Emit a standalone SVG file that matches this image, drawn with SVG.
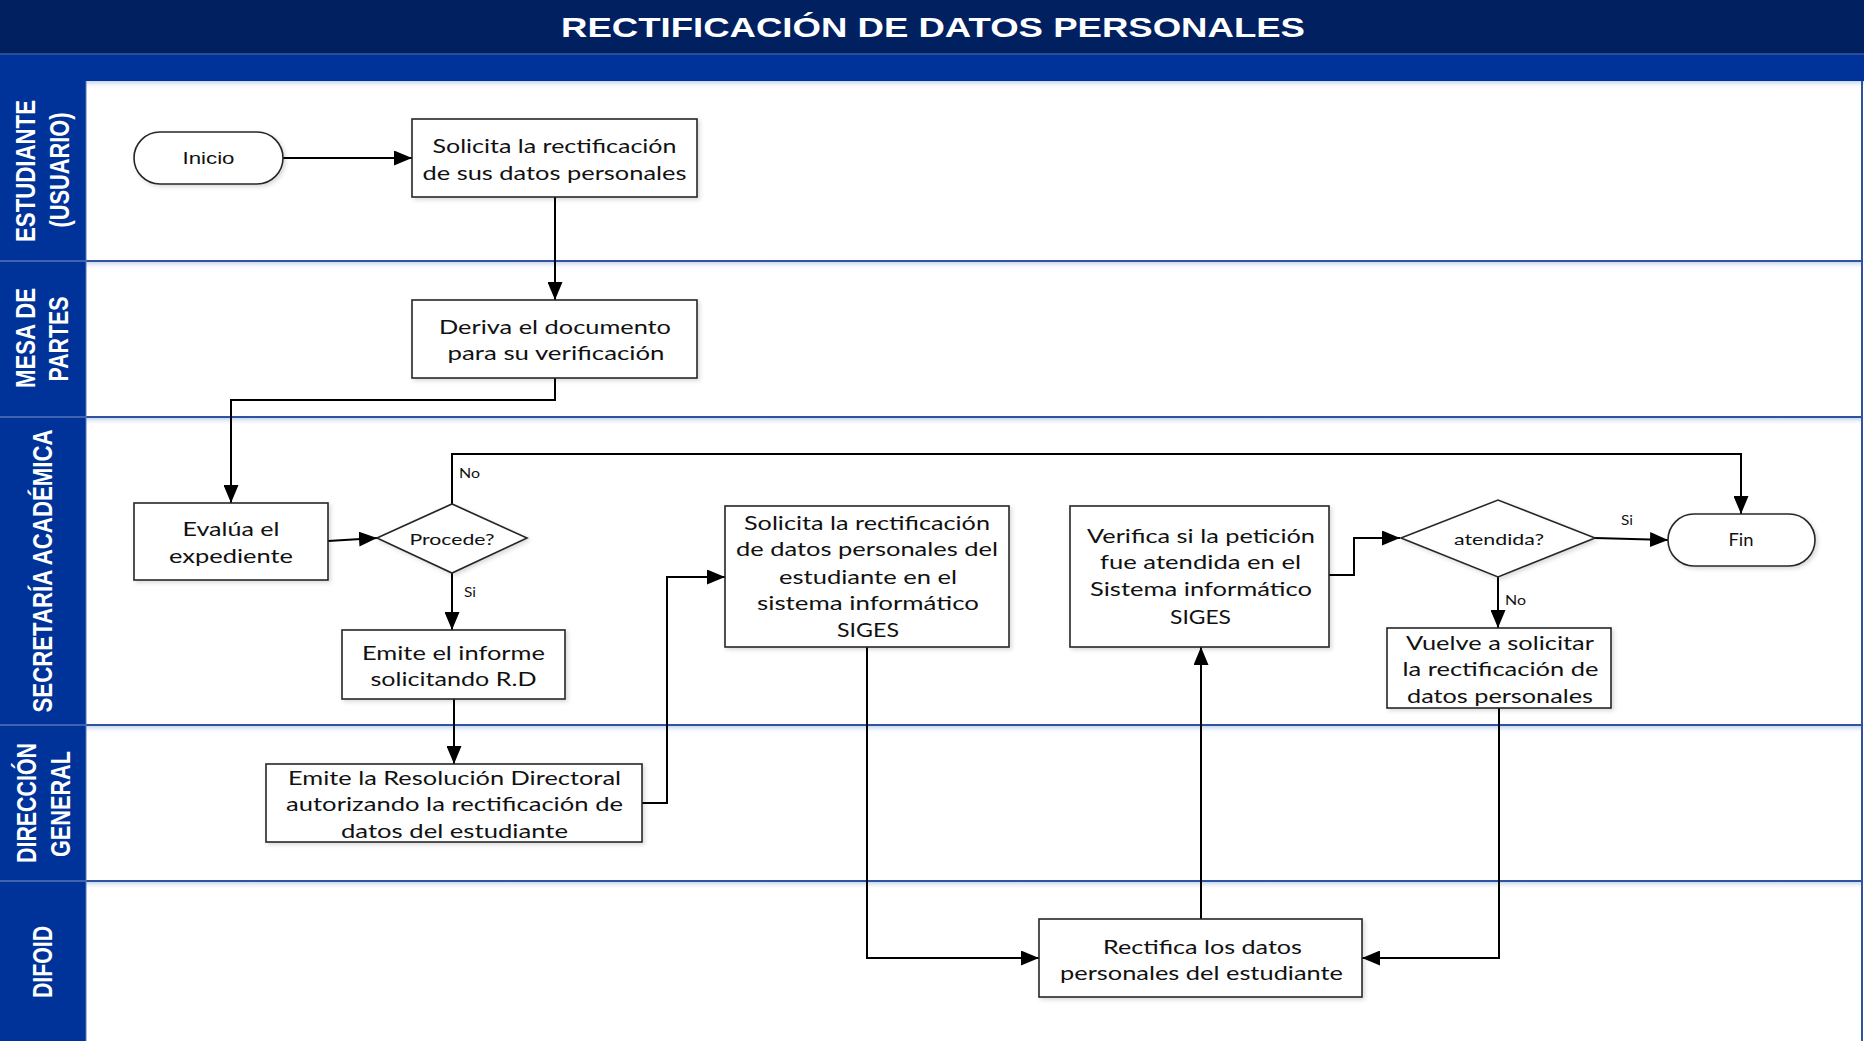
<svg xmlns="http://www.w3.org/2000/svg" width="1864" height="1041" viewBox="0 0 1864 1041">
<defs>
<style>
.box{fill:#fff;stroke:#262626;stroke-width:1.6}
.t{font-family:Lato,"Open Sans",sans-serif;font-size:20px;fill:#111;text-anchor:middle}
.d{font-family:Lato,"Open Sans",sans-serif;font-size:16px;fill:#111;text-anchor:middle}
.lbl{font-family:Lato,"Open Sans",sans-serif;font-size:14px;fill:#111}
.lane{font-family:"Liberation Sans",Arial,sans-serif;font-weight:bold;font-size:22px;fill:#fff;text-anchor:middle}
.conn{fill:none;stroke:#000;stroke-width:2}
.sep{stroke:#2E54A0;stroke-width:2}
.hsep{stroke:#5575b8;stroke-width:1.5}
</style>
<marker id="ah" markerUnits="userSpaceOnUse" markerWidth="18" markerHeight="15" refX="18" refY="7.5" orient="auto">
<path d="M0,0 L18,7.5 L0,15 z" fill="#000"/>
</marker>
<linearGradient id="sh" x1="0" y1="0" x2="0" y2="1">
<stop offset="0" stop-color="#c9d6ee"/>
<stop offset="1" stop-color="#ffffff" stop-opacity="0"/>
</linearGradient>
<filter id="ds" x="-10%" y="-10%" width="125%" height="130%">
<feDropShadow dx="2" dy="2" stdDeviation="2" flood-color="#000" flood-opacity="0.15"/>
</filter>
</defs>

<rect x="0" y="0" width="1864" height="1041" fill="#fff"/>

<g id="header">
<rect x="0" y="0" width="1864" height="54" fill="#002060"/>
<rect x="0" y="54" width="1864" height="27" fill="#003399"/>
<line x1="0" y1="54" x2="1864" y2="54" stroke="#3a5a9c" stroke-width="1.5"/>
<text x="561" y="37" textLength="744" lengthAdjust="spacingAndGlyphs" style="font-family:'Liberation Sans',Arial,sans-serif;font-weight:bold;font-size:28px;fill:#fff">RECTIFICACIÓN DE DATOS PERSONALES</text>
</g>

<g id="lanes">
<rect x="86" y="81" width="1778" height="8" fill="url(#sh)"/>
<rect x="86" y="262" width="1776" height="8" fill="url(#sh)"/>
<rect x="86" y="418" width="1776" height="8" fill="url(#sh)"/>
<rect x="86" y="726" width="1776" height="8" fill="url(#sh)"/>
<rect x="86" y="882" width="1776" height="8" fill="url(#sh)"/>
<line class="sep" x1="86" y1="261" x2="1862" y2="261"/>
<line class="sep" x1="86" y1="417" x2="1862" y2="417"/>
<line class="sep" x1="86" y1="725" x2="1862" y2="725"/>
<line class="sep" x1="86" y1="881" x2="1862" y2="881"/>
<line x1="1862" y1="81" x2="1862" y2="1041" stroke="#2E54A0" stroke-width="2"/>
<rect x="0" y="81" width="86" height="960" fill="#003399"/>
<line class="hsep" x1="0" y1="261" x2="86" y2="261"/>
<line class="hsep" x1="0" y1="417" x2="86" y2="417"/>
<line class="hsep" x1="0" y1="725" x2="86" y2="725"/>
<line class="hsep" x1="0" y1="881" x2="86" y2="881"/>
<line x1="86" y1="81" x2="86" y2="1041" stroke="#5575b8" stroke-width="1"/>
<text class="lane" transform="translate(25,171) scale(1.27,1) rotate(-90)" y="7.9" textLength="142" lengthAdjust="spacingAndGlyphs">ESTUDIANTE</text>
<text class="lane" transform="translate(59,170) scale(1.27,1) rotate(-90)" y="7.9" textLength="115" lengthAdjust="spacingAndGlyphs">(USUARIO)</text>
<text class="lane" transform="translate(25,338) scale(1.27,1) rotate(-90)" y="7.9" textLength="100" lengthAdjust="spacingAndGlyphs">MESA DE</text>
<text class="lane" transform="translate(58,339) scale(1.27,1) rotate(-90)" y="7.9" textLength="85" lengthAdjust="spacingAndGlyphs">PARTES</text>
<text class="lane" transform="translate(42,571) scale(1.27,1) rotate(-90)" y="7.9" textLength="283" lengthAdjust="spacingAndGlyphs">SECRETARÍA ACADÉMICA</text>
<text class="lane" transform="translate(26,803) scale(1.27,1) rotate(-90)" y="7.9" textLength="120" lengthAdjust="spacingAndGlyphs">DIRECCIÓN</text>
<text class="lane" transform="translate(60,804) scale(1.27,1) rotate(-90)" y="7.9" textLength="106" lengthAdjust="spacingAndGlyphs">GENERAL</text>
<text class="lane" transform="translate(42,962) scale(1.27,1) rotate(-90)" y="7.9" textLength="72" lengthAdjust="spacingAndGlyphs">DIFOID</text>
</g>

<g id="connectors">
<path class="conn" d="M283,158 H412" marker-end="url(#ah)"/>
<path class="conn" d="M555,197 V300" marker-end="url(#ah)"/>
<path class="conn" d="M555,378 V400 H231 V503" marker-end="url(#ah)"/>
<path class="conn" d="M328,541 L377,538" marker-end="url(#ah)"/>
<path class="conn" d="M452,504 V454 H1741 V514" marker-end="url(#ah)"/>
<path class="conn" d="M452,573 V630" marker-end="url(#ah)"/>
<path class="conn" d="M454,699 V764" marker-end="url(#ah)"/>
<path class="conn" d="M642,803 H667 V577 H725" marker-end="url(#ah)"/>
<path class="conn" d="M867,647 V958 H1039" marker-end="url(#ah)"/>
<path class="conn" d="M1201,919 V647" marker-end="url(#ah)"/>
<path class="conn" d="M1329,575 H1354 V538 H1400" marker-end="url(#ah)"/>
<path class="conn" d="M1595,538 L1668,540" marker-end="url(#ah)"/>
<path class="conn" d="M1498,577 V628" marker-end="url(#ah)"/>
<path class="conn" d="M1499,708 V958 H1362" marker-end="url(#ah)"/>
<text class="lbl" x="459" y="478" textLength="21" lengthAdjust="spacingAndGlyphs">No</text>
<text class="lbl" x="464" y="597" textLength="12" lengthAdjust="spacingAndGlyphs">Si</text>
<text class="lbl" x="1621" y="525" textLength="12" lengthAdjust="spacingAndGlyphs">Si</text>
<text class="lbl" x="1505" y="605" textLength="21" lengthAdjust="spacingAndGlyphs">No</text>
</g>

<g id="inicio">
<rect class="box" x="134" y="132" width="149" height="52" rx="26" ry="26" filter="url(#ds)"/>
<text x="208.5" y="164" textLength="52" lengthAdjust="spacingAndGlyphs" style="font-family:'Liberation Sans',Arial,sans-serif;font-size:17px;fill:#111;text-anchor:middle">Inicio</text>
</g>

<g id="solicita">
<rect class="box" x="412" y="119" width="285" height="78" filter="url(#ds)"/>
<text class="t" x="554.5" y="153" textLength="244" lengthAdjust="spacingAndGlyphs">Solicita la rectificación</text>
<text class="t" x="554.5" y="179.5" textLength="264" lengthAdjust="spacingAndGlyphs">de sus datos personales</text>
</g>

<g id="deriva">
<rect class="box" x="412" y="300" width="285" height="78" filter="url(#ds)"/>
<text class="t" x="555" y="334" textLength="232" lengthAdjust="spacingAndGlyphs">Deriva el documento</text>
<text class="t" x="556" y="360" textLength="217" lengthAdjust="spacingAndGlyphs">para su verificación</text>
</g>

<g id="evalua">
<rect class="box" x="134" y="503" width="194" height="77" filter="url(#ds)"/>
<text class="t" x="231" y="535.5" textLength="97" lengthAdjust="spacingAndGlyphs">Evalúa el</text>
<text class="t" x="231" y="562.5" textLength="124" lengthAdjust="spacingAndGlyphs">expediente</text>
</g>

<g id="procede">
<polygon class="box" points="377,538 452,504 527,538 452,573" filter="url(#ds)"/>
<text class="d" x="452" y="545" textLength="85" lengthAdjust="spacingAndGlyphs">Procede?</text>
</g>

<g id="emite-informe">
<rect class="box" x="342" y="630" width="223" height="69" filter="url(#ds)"/>
<text class="t" x="453.5" y="659.5" textLength="183" lengthAdjust="spacingAndGlyphs">Emite el informe</text>
<text class="t" x="453.5" y="686" textLength="166" lengthAdjust="spacingAndGlyphs">solicitando R.D</text>
</g>

<g id="emite-rd">
<rect class="box" x="266" y="764" width="376" height="78" filter="url(#ds)"/>
<text class="t" x="454.5" y="784.5" textLength="333" lengthAdjust="spacingAndGlyphs">Emite la Resolución Directoral</text>
<text class="t" x="454.5" y="811" textLength="337" lengthAdjust="spacingAndGlyphs">autorizando la rectificación de</text>
<text class="t" x="454.5" y="837.5" textLength="227" lengthAdjust="spacingAndGlyphs">datos del estudiante</text>
</g>

<g id="solicita-siges">
<rect class="box" x="725" y="506" width="284" height="141" filter="url(#ds)"/>
<text class="t" x="867" y="530" textLength="246" lengthAdjust="spacingAndGlyphs">Solicita la rectificación</text>
<text class="t" x="867" y="556" textLength="262" lengthAdjust="spacingAndGlyphs">de datos personales del</text>
<text class="t" x="868" y="583.5" textLength="178" lengthAdjust="spacingAndGlyphs">estudiante en el</text>
<text class="t" x="868" y="609.5" textLength="222" lengthAdjust="spacingAndGlyphs">sistema informático</text>
<text class="t" x="868" y="637" textLength="62" lengthAdjust="spacingAndGlyphs">SIGES</text>
</g>

<g id="verifica">
<rect class="box" x="1070" y="506" width="259" height="141" filter="url(#ds)"/>
<text class="t" x="1201" y="542.5" textLength="228" lengthAdjust="spacingAndGlyphs">Verifica si la petición</text>
<text class="t" x="1200.5" y="569" textLength="201" lengthAdjust="spacingAndGlyphs">fue atendida en el</text>
<text class="t" x="1201" y="596" textLength="222" lengthAdjust="spacingAndGlyphs">Sistema informático</text>
<text class="t" x="1200.5" y="624" textLength="61" lengthAdjust="spacingAndGlyphs">SIGES</text>
</g>

<g id="atendida">
<polygon class="box" points="1401,538 1498,500 1595,538 1498,577" filter="url(#ds)"/>
<text class="d" x="1499" y="545" textLength="90" lengthAdjust="spacingAndGlyphs">atendida?</text>
</g>

<g id="fin">
<rect class="box" x="1668" y="514" width="147" height="52" rx="26" ry="26" filter="url(#ds)"/>
<text x="1741" y="546" textLength="25" lengthAdjust="spacingAndGlyphs" style="font-family:Lato,'Open Sans',sans-serif;font-size:17px;fill:#111;text-anchor:middle">Fin</text>
</g>

<g id="vuelve">
<rect class="box" x="1387" y="628" width="224" height="80" filter="url(#ds)"/>
<text class="t" x="1500" y="649.5" textLength="188" lengthAdjust="spacingAndGlyphs">Vuelve a solicitar</text>
<text class="t" x="1500.5" y="675.5" textLength="196" lengthAdjust="spacingAndGlyphs">la rectificación de</text>
<text class="t" x="1500" y="702.5" textLength="186" lengthAdjust="spacingAndGlyphs">datos personales</text>
</g>

<g id="rectifica">
<rect class="box" x="1039" y="919" width="323" height="78" filter="url(#ds)"/>
<text class="t" x="1202.5" y="953.5" textLength="199" lengthAdjust="spacingAndGlyphs">Rectifica los datos</text>
<text class="t" x="1201.5" y="979.5" textLength="283" lengthAdjust="spacingAndGlyphs">personales del estudiante</text>
</g>
</svg>
